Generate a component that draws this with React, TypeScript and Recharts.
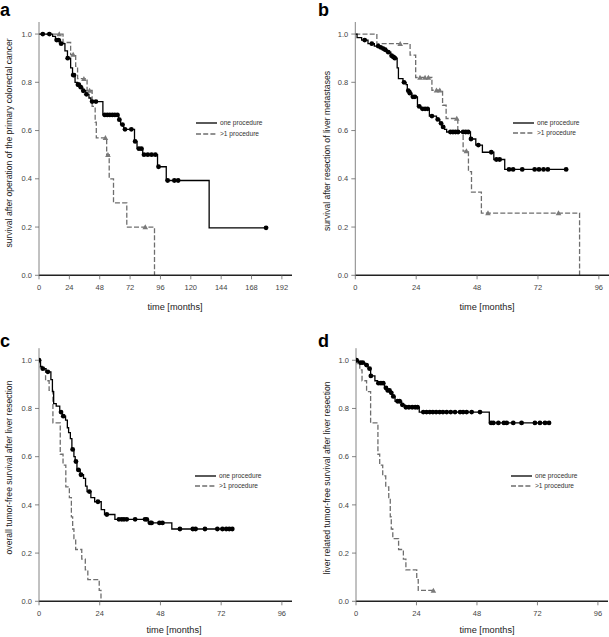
import React from 'react';
import { ComposedChart, Line, Scatter, XAxis, YAxis, Legend } from 'recharts';

type Pt = [number, number];

// ---------- labels & ticks ----------
const yTicks = [0, 0.2, 0.4, 0.6, 0.8, 1.0];
const xTicksLong = [0, 24, 48, 72, 96, 120, 144, 168, 192];
const xTicksShort = [0, 24, 48, 72, 96];
const seriesNames = ['one procedure', '>1 procedure'];
const panelLetters = ['a', 'b', 'c', 'd'];
const xLabel = 'time [months]';
const yLabels = [
  'survival after operation of the primary colorectal cancer',
  'survival after resection of liver metastases',
  'overall tumor-free survival after liver resection',
  'liver related tumor-free survival after liver resection',
];

// ---------- panel a ----------
const aOneSteps: Pt[] = [
  [0, 1], [10.8, 0.99], [13, 0.975], [17, 0.96], [20.5, 0.93], [22.5, 0.9], [25, 0.86], [26.5, 0.83],
  [28.5, 0.8], [30.5, 0.79], [32.5, 0.78], [34.5, 0.765], [37, 0.75], [39.5, 0.735], [41, 0.72],
  [50.5, 0.665], [63, 0.645], [64.5, 0.625], [67, 0.605], [75.5, 0.555], [77.5, 0.525], [82, 0.5],
  [93.7, 0.45], [100.6, 0.393], [134.5, 0.197], [179.5, 0.197],
];
const aOneCensor: Pt[] = [
  [3, 1], [8.2, 1], [14, 0.975], [15.5, 0.975], [17.5, 0.96], [22.7, 0.9], [27, 0.83], [27.7, 0.83],
  [30.8, 0.79], [31.5, 0.79], [33, 0.78], [35, 0.765], [37.5, 0.75], [42, 0.72], [45, 0.72],
  [52, 0.665], [54, 0.665], [56, 0.665], [58, 0.665], [60, 0.665], [62, 0.665], [63.5, 0.645],
  [66, 0.625], [68, 0.605], [73, 0.605], [76, 0.555], [79, 0.525], [81, 0.525], [83, 0.5], [86, 0.5],
  [89, 0.5], [92, 0.5], [94.5, 0.45], [101.7, 0.393], [107, 0.393], [110, 0.393], [179.5, 0.197],
];
const aMultiSteps: Pt[] = [
  [0, 1], [19, 0.965], [25, 0.915], [29, 0.866], [30.5, 0.815], [38, 0.766], [42, 0.7], [44.4, 0.635],
  [45.3, 0.57], [53.5, 0.5], [55.5, 0.4], [58.9, 0.3], [69.4, 0.2], [91.3, 0],
];
const aMultiCensor: Pt[] = [
  [16, 1], [27, 0.915], [35.5, 0.815], [40, 0.766], [52.5, 0.57], [54.5, 0.5], [84, 0.2],
];

// ---------- panel b ----------
const bOneSteps: Pt[] = [
  [0, 1], [0.7, 0.985], [2.5, 0.975], [5, 0.96], [7.5, 0.95], [9.5, 0.945], [11, 0.935], [12.5, 0.925],
  [14, 0.91], [15.5, 0.9], [16.5, 0.86], [17, 0.815], [18.8, 0.8], [20, 0.79], [20.5, 0.765],
  [21.8, 0.755], [22.3, 0.74], [24.5, 0.7], [25.8, 0.69], [29.2, 0.66], [32, 0.646], [33.3, 0.63],
  [34.2, 0.615], [35.2, 0.605], [36, 0.594], [45.4, 0.565], [47.5, 0.54], [50.1, 0.51], [54.6, 0.48],
  [58.9, 0.439], [83.1, 0.439],
];
const bOneCensor: Pt[] = [
  [3.7, 0.975], [6.5, 0.96], [9, 0.95], [10, 0.945], [11, 0.94], [11.8, 0.935], [13, 0.925], [14.3, 0.91],
  [15, 0.905], [15.6, 0.9], [19.2, 0.8], [20.9, 0.765], [21.5, 0.755], [22.7, 0.74], [23.5, 0.74],
  [25.2, 0.7], [26.5, 0.69], [27.5, 0.69], [28.5, 0.69], [30.2, 0.66], [32.5, 0.646], [33.8, 0.63],
  [34.6, 0.615], [37.5, 0.594], [38.5, 0.594], [39.5, 0.594], [40.5, 0.594], [42.5, 0.594],
  [43.5, 0.594], [44.5, 0.594], [45.6, 0.565], [48.5, 0.54], [53.6, 0.51], [55.6, 0.48], [56.9, 0.48],
  [60.6, 0.439], [62.2, 0.439], [65.8, 0.439], [70.7, 0.439], [72.4, 0.439], [74.2, 0.439],
  [75.9, 0.439], [83.1, 0.439],
];
const bMultiSteps: Pt[] = [
  [0, 1], [8.5, 0.96], [21.6, 0.913], [23.8, 0.82], [30.2, 0.767], [34.4, 0.705], [35.8, 0.65],
  [40.4, 0.595], [42.5, 0.515], [44.6, 0.43], [45.8, 0.345], [49.7, 0.258], [88.4, 0],
];
const bMultiCensor: Pt[] = [
  [17.7, 0.96], [25.5, 0.82], [27.5, 0.82], [28.8, 0.82], [32, 0.767], [33.3, 0.767], [40, 0.65],
  [43.8, 0.515], [52.3, 0.258], [80.1, 0.258],
];

// ---------- panel c ----------
const cOneSteps: Pt[] = [
  [0, 1], [0.6, 0.975], [1.2, 0.965], [2.8, 0.952], [4.7, 0.92], [5.3, 0.87], [5.8, 0.82], [6.8, 0.81],
  [8.2, 0.785], [9.2, 0.768], [10.5, 0.752], [11.2, 0.72], [11.7, 0.7], [12.4, 0.675], [13, 0.63],
  [13.8, 0.6], [14.3, 0.58], [15, 0.545], [16.3, 0.525], [17.6, 0.51], [18.4, 0.478], [19, 0.455],
  [20.5, 0.43], [22, 0.413], [24.6, 0.38], [25.9, 0.36], [30, 0.34], [43.2, 0.325], [52.5, 0.3],
  [76.4, 0.3],
];
const cOneCensor: Pt[] = [
  [0, 1], [1.5, 0.965], [3.5, 0.952], [8.7, 0.785], [9.6, 0.768], [13.3, 0.63], [14.6, 0.58],
  [15.6, 0.545], [16.6, 0.525], [19.9, 0.455], [23.3, 0.413], [26.8, 0.36], [31.6, 0.34], [32.7, 0.34],
  [33.6, 0.34], [34.7, 0.34], [38, 0.34], [41.9, 0.34], [42.6, 0.34], [43.9, 0.325], [44.5, 0.325],
  [47.6, 0.325], [48.8, 0.325], [55.7, 0.3], [60.8, 0.3], [61.9, 0.3], [65.6, 0.3], [70.5, 0.3],
  [72.5, 0.3], [74, 0.3], [75.2, 0.3], [76.4, 0.3],
];
const cMultiSteps: Pt[] = [
  [0, 1], [0.5, 0.97], [1.5, 0.96], [2.6, 0.915], [4, 0.875], [5.5, 0.74], [8.4, 0.61], [9.5, 0.565],
  [10.6, 0.475], [12, 0.43], [12.8, 0.35], [13.3, 0.3], [13.8, 0.26], [14.5, 0.215], [16.9, 0.175],
  [18.3, 0.13], [19.3, 0.09], [23.8, 0.045], [24.5, 0],
];
const cMultiCensor: Pt[] = [];

// ---------- panel d ----------
const dOneSteps: Pt[] = [
  [0, 1], [1, 0.99], [3.5, 0.98], [4.8, 0.965], [5.8, 0.935], [7.5, 0.915], [8.5, 0.905], [11.3, 0.885],
  [12.3, 0.875], [13.5, 0.865], [14.5, 0.85], [15.5, 0.83], [18.1, 0.815], [19.4, 0.805], [25.1, 0.785],
  [52.9, 0.74], [76.6, 0.74],
];
const dOneCensor: Pt[] = [
  [0.2, 1], [1.8, 0.99], [2.7, 0.99], [4.2, 0.98], [5.4, 0.965], [5.9, 0.935], [8.9, 0.905], [9.9, 0.905],
  [10.8, 0.905], [11.9, 0.885], [12.6, 0.875], [13.3, 0.875], [14, 0.865], [14.8, 0.85], [16.5, 0.83],
  [17.3, 0.83], [18.4, 0.815], [19.8, 0.805], [21, 0.805], [22.3, 0.805], [23.5, 0.805], [24.4, 0.805],
  [26.7, 0.785], [28, 0.785], [29.3, 0.785], [30.5, 0.785], [31.8, 0.785], [33.2, 0.785], [34.5, 0.785],
  [36, 0.785], [37.6, 0.785], [39.3, 0.785], [41.3, 0.785], [42.5, 0.785], [43.9, 0.785], [45.9, 0.785],
  [49.2, 0.785], [53.6, 0.74], [54.5, 0.74], [56.5, 0.74], [58.7, 0.74], [59.8, 0.74], [62.4, 0.74],
  [65.7, 0.74], [71, 0.74], [73, 0.74], [75, 0.74], [76.6, 0.74],
];
const dMultiSteps: Pt[] = [
  [0, 1], [0.5, 0.985], [1.5, 0.96], [2.4, 0.915], [4.2, 0.87], [5.8, 0.74], [8.7, 0.61], [9.4, 0.565],
  [10.6, 0.52], [11.8, 0.475], [13, 0.43], [13.6, 0.35], [14, 0.3], [14.6, 0.26], [16.9, 0.215],
  [18.8, 0.175], [19.8, 0.13], [24.1, 0.09], [24.7, 0.045], [30.7, 0.045],
];
const dMultiCensor: Pt[] = [[30.7, 0.045]];

// ---------- rendering ----------
const FONT = '"Liberation Sans", Arial, Helvetica, sans-serif';
const rows = (pts: Pt[]) => pts.map(([x, y]) => ({ x, y }));

const DotShape = (props: any) => {
  const { cx, cy } = props;
  if (cx == null || cy == null) return <g />;
  return <circle cx={cx} cy={cy} r={2.4} fill="#000" />;
};
const TriShape = (props: any) => {
  const { cx, cy } = props;
  if (cx == null || cy == null) return <g />;
  const s = 2.8;
  return (
    <polygon
      points={`${cx},${cy - s} ${cx - s},${cy + s * 0.8} ${cx + s},${cy + s * 0.8}`}
      fill="#7a7a7a"
    />
  );
};

interface PanelCfg {
  letter: string;
  left: number;
  top: number;
  width: number;
  height: number;
  margin: { top: number; right: number; bottom: number; left: number };
  yAxisWidth: number;
  xMax: number;
  xTicks: number[];
  yLabel: string;
  yLabelPos: [number, number];
  xLabelPos: [number, number];
  legendPos: [number, number];
  legendGap: number;
  letterPos: [number, number];
  one: Pt[];
  oneCensor: Pt[];
  multi: Pt[];
  multiCensor: Pt[];
}

const LegendBox = ({ gap }: { gap: number }) => (
  <svg width={110} height={gap + 12} style={{ display: 'block', overflow: 'visible' }}>
    <line x1={2} x2={23} y1={6} y2={6} stroke="#000" strokeWidth={1.3} />
    <text x={26} y={6} dy="0.35em" fontSize={6.6} fill="#333" fontFamily={FONT}>
      {seriesNames[0]}
    </text>
    <line x1={2} x2={23} y1={6 + gap} y2={6 + gap} stroke="#6e6e6e" strokeWidth={1.3} strokeDasharray="5 2.2" />
    <text x={26} y={6 + gap} dy="0.35em" fontSize={6.6} fill="#333" fontFamily={FONT}>
      {seriesNames[1]}
    </text>
  </svg>
);

function Panel({ cfg }: { cfg: PanelCfg }) {
  const [yx, yy] = cfg.yLabelPos;
  const [xx, xy] = cfg.xLabelPos;
  return (
    <div style={{ position: 'absolute', left: cfg.left, top: cfg.top, width: cfg.width, height: cfg.height }}>
      <ComposedChart width={cfg.width} height={cfg.height} margin={cfg.margin}>
        <XAxis
          type="number"
          dataKey="x"
          domain={[0, cfg.xMax]}
          ticks={cfg.xTicks}
          allowDataOverflow
          height={20}
          tickSize={4}
          tickMargin={5}
          tick={{ fontSize: 7.5, fill: '#444', fontFamily: FONT }}
          tickLine={{ stroke: '#666', strokeWidth: 0.8 }}
          axisLine={{ stroke: '#222', strokeWidth: 1.6 }}
          label={() => (
            <text x={xx} y={xy} textAnchor="middle" dy="0.35em" fontSize={9.2} fill="#222" fontFamily={FONT}>
              {xLabel}
            </text>
          )}
        />
        <YAxis
          type="number"
          dataKey="y"
          domain={[0, 1.05]}
          ticks={yTicks}
          allowDataOverflow
          width={cfg.yAxisWidth}
          tickSize={4}
          tickMargin={3}
          tickFormatter={(v: number) => v.toFixed(1)}
          tick={{ fontSize: 7.5, fill: '#444', fontFamily: FONT }}
          tickLine={{ stroke: '#666', strokeWidth: 0.8 }}
          axisLine={{ stroke: '#777', strokeWidth: 0.9 }}
          label={() => (
            <text
              x={yx}
              y={yy}
              textAnchor="middle"
              dy="0.35em"
              fontSize={8.6}
              fill="#222"
              fontFamily={FONT}
              transform={`rotate(-90, ${yx}, ${yy})`}
            >
              {cfg.yLabel}
            </text>
          )}
        />
        <Line
          data={rows(cfg.multi)}
          dataKey="y"
          type="stepAfter"
          stroke="#6e6e6e"
          strokeWidth={1.3}
          strokeDasharray="5 2.2"
          dot={false}
          activeDot={false}
          isAnimationActive={false}
          name={seriesNames[1]}
        />
        <Line
          data={rows(cfg.one)}
          dataKey="y"
          type="stepAfter"
          stroke="#000"
          strokeWidth={1.3}
          dot={false}
          activeDot={false}
          isAnimationActive={false}
          name={seriesNames[0]}
        />
        <Scatter data={rows(cfg.multiCensor)} shape={TriShape} isAnimationActive={false} />
        <Scatter data={rows(cfg.oneCensor)} shape={DotShape} isAnimationActive={false} />
        <Legend
          layout="vertical"
          align="center"
          verticalAlign="middle"
          wrapperStyle={{ left: cfg.legendPos[0], top: cfg.legendPos[1], width: 110, height: cfg.legendGap + 12 }}
          content={() => <LegendBox gap={cfg.legendGap} />}
        />
      </ComposedChart>
      <div
        style={{
          position: 'absolute',
          left: cfg.letterPos[0],
          top: cfg.letterPos[1],
          fontFamily: FONT,
          fontWeight: 'bold',
          fontSize: 18,
          lineHeight: 'normal',
          color: '#000',
        }}
      >
        {cfg.letter}
      </div>
    </div>
  );
}

const panels: PanelCfg[] = [
  {
    letter: panelLetters[0], left: 0, top: 0, width: 300, height: 318,
    margin: { top: 22, right: 8, bottom: 22.7, left: 0 }, yAxisWidth: 39,
    xMax: 200, xTicks: xTicksLong, yLabel: yLabels[0],
    yLabelPos: [8.5, 143], xLabelPos: [175, 307], legendPos: [194, 117], legendGap: 11,
    letterPos: [0, 0],
    one: aOneSteps, oneCensor: aOneCensor, multi: aMultiSteps, multiCensor: aMultiCensor,
  },
  {
    letter: panelLetters[1], left: 300, top: 0, width: 309, height: 318,
    margin: { top: 22, right: 0, bottom: 22.7, left: 0 }, yAxisWidth: 55.3,
    xMax: 100, xTicks: xTicksShort, yLabel: yLabels[1],
    yLabelPos: [26.7, 151], xLabelPos: [187, 307], legendPos: [211, 117], legendGap: 10,
    letterPos: [18, 0],
    one: bOneSteps, oneCensor: bOneCensor, multi: bMultiSteps, multiCensor: bMultiCensor,
  },
  {
    letter: panelLetters[2], left: 0, top: 318, width: 300, height: 319,
    margin: { top: 30.2, right: 8, bottom: 15.7, left: 0 }, yAxisWidth: 39,
    xMax: 100, xTicks: xTicksShort, yLabel: yLabels[2],
    yLabelPos: [8.5, 149.5], xLabelPos: [174, 311.7], legendPos: [193, 152.3], legendGap: 10,
    letterPos: [0, 12.7],
    one: cOneSteps, oneCensor: cOneCensor, multi: cMultiSteps, multiCensor: cMultiCensor,
  },
  {
    letter: panelLetters[3], left: 300, top: 318, width: 309, height: 319,
    margin: { top: 30.2, right: 1, bottom: 15.7, left: 0 }, yAxisWidth: 56,
    xMax: 100, xTicks: xTicksShort, yLabel: yLabels[3],
    yLabelPos: [26.7, 160], xLabelPos: [187, 312], legendPos: [208.7, 151.7], legendGap: 10,
    letterPos: [18, 12.7],
    one: dOneSteps, oneCensor: dOneCensor, multi: dMultiSteps, multiCensor: dMultiCensor,
  },
];

export default function App() {
  return (
    <div style={{ position: 'absolute', left: 0, top: 0, width: 609, height: 637, background: '#fff', overflow: 'hidden' }}>
      {panels.map((p) => (
        <Panel key={p.letter} cfg={p} />
      ))}
    </div>
  );
}
